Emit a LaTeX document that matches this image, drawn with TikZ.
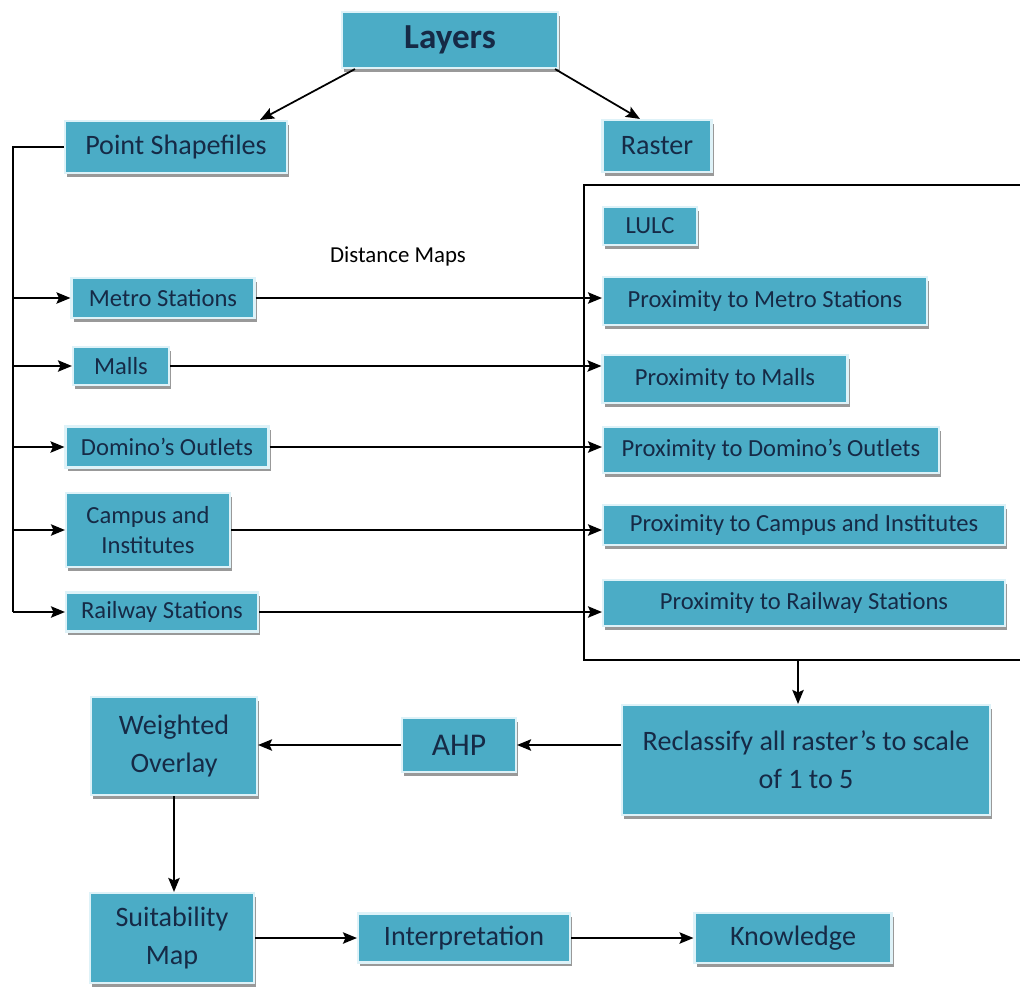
\documentclass[tikz,border=0pt]{standalone}
\usepackage{fontspec}
\setmainfont{Carlito}
\usepackage{tikz}
\usetikzlibrary{arrows,arrows.meta,shapes,positioning,shadows}
\usepackage{xcolor}
\definecolor{boxblue}{RGB}{75,172,198}
\definecolor{boxedge}{RGB}{222,242,248}
\definecolor{boxtext}{RGB}{22,42,70}
\tikzstyle{arrow} = [line width=1pt,->,>={Stealth[length=8pt,width=6.5pt,inset=1.5pt]},color=black]
\tikzstyle{box} = [fill=boxblue, draw=boxedge, line width=1.2pt, text=boxtext, align=center,
  drop shadow={shadow xshift=1.2pt, shadow yshift=-2.2pt, fill=black!40, opacity=1}]
\tikzstyle{small} = [box, font=\fontsize{14}{17.5}\selectfont]
\tikzstyle{large} = [box, font=\fontsize{16}{21.5}\selectfont]

\begin{document}
\begin{tikzpicture}[x=0.02cm, y=-0.02cm]
\useasboundingbox (0,0) rectangle (1020,990);

% Top of the tree
\node[box, font=\fontsize{20}{24}\selectfont\bfseries, minimum width=4.32cm, minimum height=1.12cm] (layers) at (450,40) {Layers};
\node[large, minimum width=4.44cm, minimum height=1.04cm] (ptshp) at (176,147) {Point Shapefiles};
\node[large, minimum width=2.18cm, minimum height=1.04cm] (raster) at (657,146) {Raster};

\draw[arrow] ([xshift=0.28cm]layers.south west) -- ([xshift=-0.56cm]ptshp.north east);
\draw[arrow] ([xshift=-0.08cm]layers.south east) -- ([xshift=-0.34cm]raster.north);

% Raster frame
\node[draw, line width=1pt, minimum width=9.02cm, minimum height=9.5cm] (frame) at (809.5,422.5) {};
\coordinate (framebot) at (798,660);

% Point layers
\node[small, minimum width=3.66cm, minimum height=0.80cm] (metro) at (163,298) {Metro Stations};
\node[small, minimum width=1.92cm, minimum height=0.76cm] (malls) at (121,366) {Malls};
\node[small, minimum width=4.06cm, minimum height=0.82cm] (dom) at (167,447) {Domino’s Outlets};
\node[small, minimum width=3.28cm, minimum height=1.48cm] (camp) at (148,530) {Campus and\\Institutes};
\node[small, minimum width=3.84cm, minimum height=0.78cm] (rail) at (162,612) {Railway Stations};

\node[font=\fontsize{13}{15}\selectfont] (dmaps) at (398,256) {Distance Maps};

% Distance maps
\node[small, minimum width=1.88cm, minimum height=0.76cm] (lulc) at (650,226) {LULC};
\node[small, minimum width=6.48cm, minimum height=0.96cm] (pmetro) at (765,301) {Proximity to Metro Stations};
\node[small, minimum width=4.90cm, minimum height=0.96cm] (pmalls) at (725,379) {Proximity to Malls};
\node[small, minimum width=6.72cm, minimum height=0.92cm] (pdom) at (771,450) {Proximity to Domino’s Outlets};
\node[small, minimum width=8.04cm, minimum height=0.80cm] (pcamp) at (804,525) {Proximity to Campus and Institutes};
\node[small, minimum width=8.04cm, minimum height=0.92cm] (prail) at (804,603) {Proximity to Railway Stations};

% Left bus
\coordinate (bus) at (13,147);
\draw[line width=1pt] (ptshp.west) -- (bus) -- (bus |- rail.west);
\foreach \n in {metro,malls,dom,camp,rail}
  \draw[arrow] (bus |- \n.west) -- (\n.west);

\draw[arrow] (metro.east) -- (metro.east -| pmetro.west);
\draw[arrow] (malls.east) -- (malls.east -| pmalls.west);
\draw[arrow] (dom.east) -- (dom.east -| pdom.west);
\draw[arrow] (camp.east) -- (camp.east -| pcamp.west);
\draw[arrow] (rail.east) -- (rail.east -| prail.west);

% Analysis
\node[large, minimum width=7.36cm, minimum height=2.20cm] (reclass) at (806,760) {Reclassify all raster’s to scale\\of 1 to 5};
\node[box, font=\fontsize{18}{22}\selectfont, minimum width=2.28cm, minimum height=1.08cm] (ahp) at (459,745) {AHP};
\node[large, minimum width=3.32cm, minimum height=1.96cm] (wover) at (174,746) {Weighted\\Overlay};
\node[large, minimum width=3.28cm, minimum height=1.80cm] (suit) at (172,938) {Suitability\\Map};
\node[large, minimum width=4.24cm, minimum height=0.98cm] (interp) at (464,938) {Interpretation};
\node[large, minimum width=3.94cm, minimum height=1.00cm] (know) at (793,938) {Knowledge};

\draw[arrow] (framebot) -- (framebot |- reclass.north);
\draw[arrow] (reclass.west |- ahp.east) -- (ahp.east);
\draw[arrow] (ahp.west) -- (ahp.west -| wover.east);
\draw[arrow] (wover.south) -- (wover.south |- suit.north);
\draw[arrow] (suit.east) -- (interp.west);
\draw[arrow] (interp.east) -- (know.west);
\end{tikzpicture}
\end{document}
